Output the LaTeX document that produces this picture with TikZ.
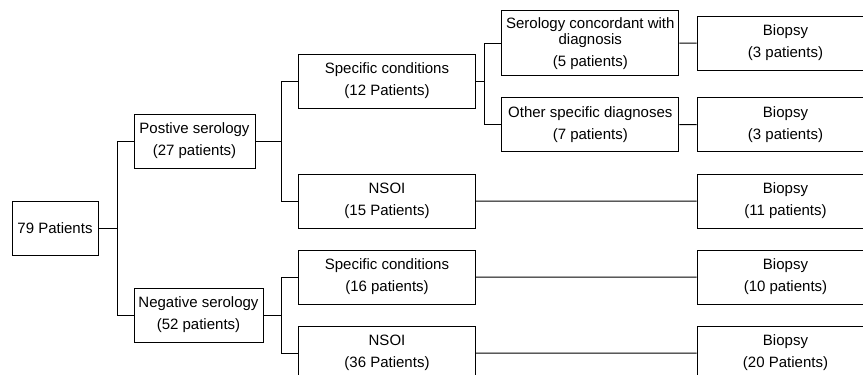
\documentclass[tikz,border=0pt]{standalone}
\usepackage{fontspec}
\setmainfont{Liberation Sans}
\usepackage{tikz}

\begin{document}
\begin{tikzpicture}[x=1pt, y=-1pt, line width=1pt,
        box/.style={draw, align=center, inner sep=0pt, minimum height=54pt, minimum width=177pt, font=\fontsize{15}{22}\selectfont}]
        \clip (0, 0) rectangle (863, 375);
        \node[box, minimum width=86pt] (all) at (55, 228) {79 Patients};
        \node[box, minimum width=121pt] (pos) at (194.5, 141) {Postive serology\\(27 patients)};
        \node[box, minimum width=129pt] (neg) at (198.5, 315) {Negative serology\\(52 patients)};
        \node[box] (posspec) at (387, 81) {Specific conditions\\(12 Patients)};
        \node[box] (posnsoi) at (387, 201) {NSOI\\(15 Patients)};
        \node[box] (negspec) at (387, 277) {Specific conditions\\(16 patients)};
        \node[box] (negnsoi) at (387, 353) {NSOI\\(36 Patients)};
        \node[box, minimum height=65pt] (conc) at (590.3, 43.2) {Serology concordant with\\[-6pt]diagnosis\\(5 patients)};
        \node[box] (other) at (590.3, 124.7) {Other specific diagnoses\\(7 patients)};
        \node[box] (bconc) at (785.5, 43) {Biopsy\\(3 patients)};
        \node[box] (bother) at (785.5, 124.7) {Biopsy\\(3 patients)};
        \node[box] (bposnsoi) at (785.5, 201) {Biopsy\\(11 patients)};
        \node[box] (bnegspec) at (785.5, 277) {Biopsy\\(10 patients)};
        \node[box] (bnegnsoi) at (785.5, 353) {Biopsy\\(20 Patients)};

        \coordinate (j0) at (117, 228);
        \coordinate (j1) at (281.5, 141);
        \coordinate (j2) at (281.5, 315);
        \coordinate (j3) at (484, 81);

        \draw (all.east) -- (j0) |- (pos.west)
            (j0) |- (neg.west)
            (pos.east) -- (j1) |- (posspec.west)
            (j1) |- (posnsoi.west)
            (neg.east) -- (j2) |- (negspec.west)
            (j2) |- (negnsoi.west)
            (posspec.east) -- (j3) |- (conc.west)
            (j3) |- (other.west);
        \draw (conc) -- (bconc)
            (other) -- (bother)
            (posnsoi) -- (bposnsoi)
            (negspec) -- (bnegspec)
            (negnsoi) -- (bnegnsoi);
    \end{tikzpicture}
\end{document}
